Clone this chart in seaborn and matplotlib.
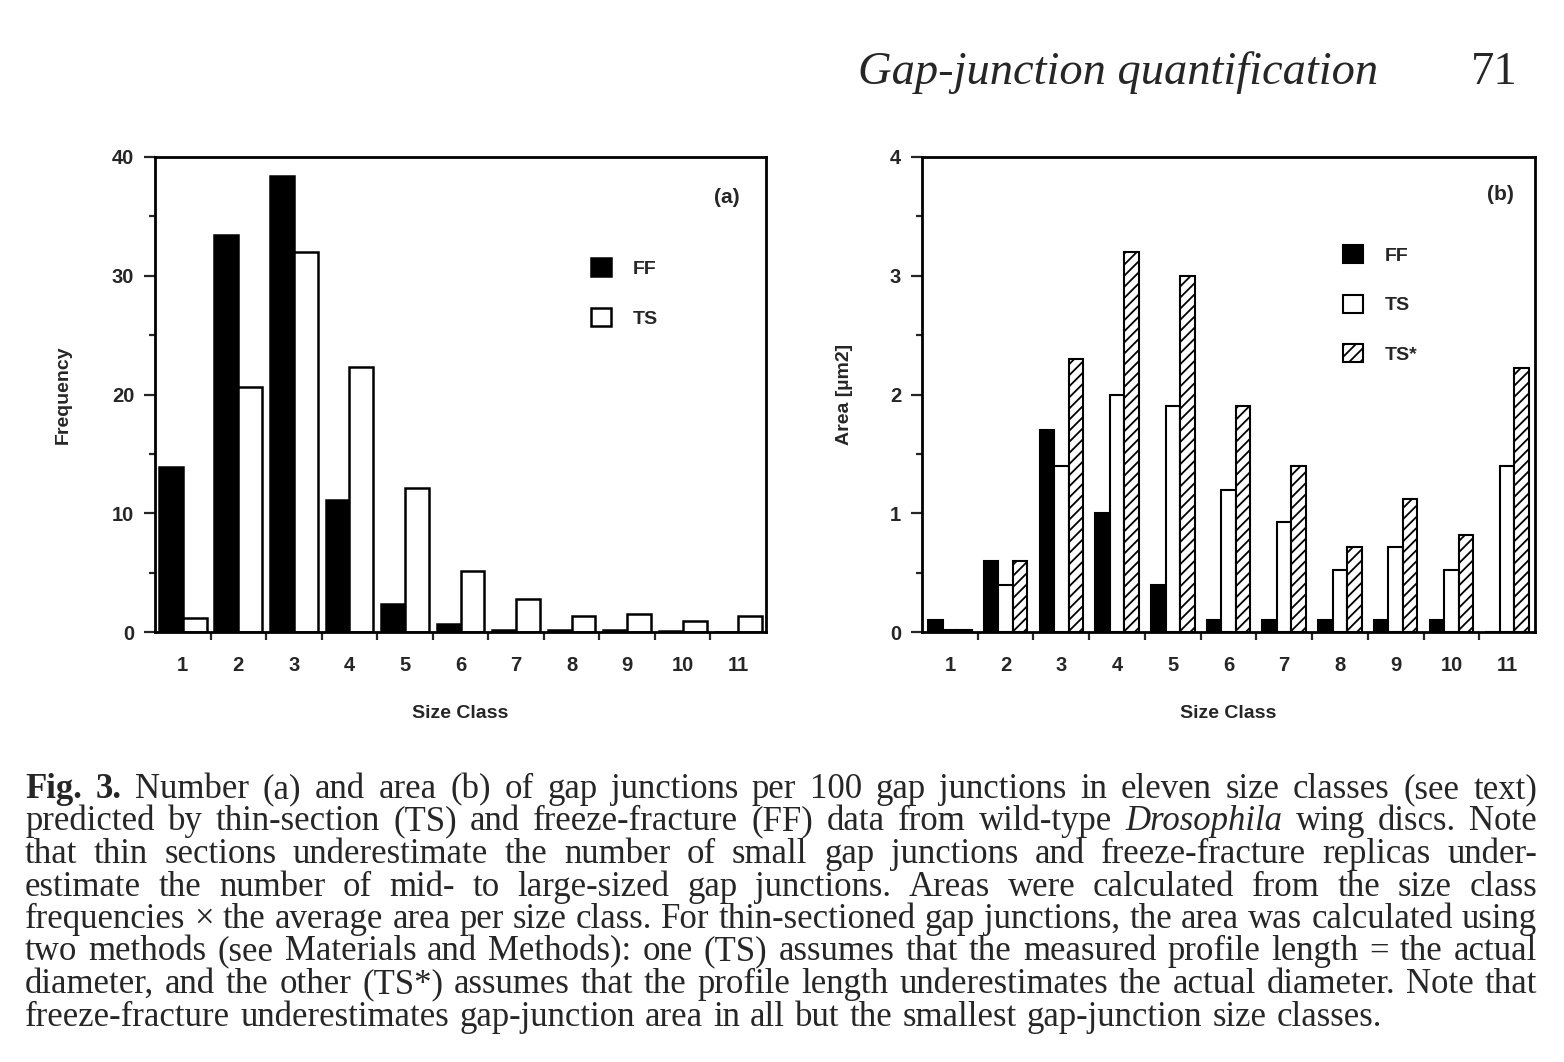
import numpy as np
import pandas as pd
import matplotlib
matplotlib.use('Agg')
import matplotlib.pyplot as plt
import seaborn as sns

# data
size_classes = ['1', '2', '3', '4', '5', '6', '7', '8', '9', '10', '11']
freq_ff = [13.9, 33.4, 38.4, 11.1, 2.4, 0.7, 0.2, 0.2, 0.15, 0.1, 0.0]
freq_ts = [1.2, 20.6, 32.0, 22.3, 12.1, 5.1, 2.8, 1.35, 1.5, 0.9, 1.35]
area_ff = [0.1, 0.6, 1.7, 1.0, 0.4, 0.1, 0.1, 0.1, 0.1, 0.1, 0.0]
area_ts = [0.02, 0.4, 1.4, 2.0, 1.9, 1.2, 0.93, 0.52, 0.72, 0.52, 1.4]
area_ts_star = [0.02, 0.6, 2.3, 3.2, 3.0, 1.9, 1.4, 0.72, 1.12, 0.82, 2.22]

caption_lines = [
    "§Fig. §3. Number (a) and area (b) of gap junctions per 100 gap junctions in eleven size classes (see text)",
    "predicted by thin-section (TS) and freeze-fracture (FF) data from wild-type ~Drosophila wing discs. Note",
    "that thin sections underestimate the number of small gap junctions and freeze-fracture replicas under-",
    "estimate the number of mid- to large-sized gap junctions. Areas were calculated from the size class",
    "frequencies × the average area per size class. For thin-sectioned gap junctions, the area was calculated using",
    "two methods (see Materials and Methods): one (TS) assumes that the measured profile length = the actual",
    "diameter, and the other (TS*) assumes that the profile length underestimates the actual diameter. Note that",
    "freeze-fracture underestimates gap-junction area in all but the smallest gap-junction size classes.",
]

W, H = 1564, 1062
sns.set_theme(style='ticks')
plt.rcParams['font.family'] = ['Liberation Sans', 'DejaVu Sans']
plt.rcParams['hatch.linewidth'] = 1.3

fig = plt.figure(figsize=(W / 100, H / 100), dpi=100)
fig.patch.set_facecolor('white')
ax_a = fig.add_axes([155 / W, 1 - 632 / H, 611 / W, 475 / H])
ax_b = fig.add_axes([922 / W, 1 - 632 / H, 613 / W, 475 / H])

df_a = pd.DataFrame({
    'size': size_classes * 2,
    'value': freq_ff + freq_ts,
    'method': ['FF'] * 11 + ['TS'] * 11,
})
df_b = pd.DataFrame({
    'size': size_classes * 3,
    'value': area_ff + area_ts + area_ts_star,
    'method': ['FF'] * 11 + ['TS'] * 11 + ['TS*'] * 11,
})
pal = {'FF': 'black', 'TS': 'white', 'TS*': 'white'}

sns.barplot(df_a, x='size', y='value', hue='method', hue_order=['FF', 'TS'],
            palette=pal, saturation=1, edgecolor='black', linewidth=1.8,
            width=0.86, errorbar=None, legend=False, ax=ax_a)
sns.barplot(df_b, x='size', y='value', hue='method', hue_order=['FF', 'TS', 'TS*'],
            palette=pal, saturation=1, edgecolor='black', linewidth=1.5,
            width=0.78, errorbar=None, legend=False, ax=ax_b)
for p in ax_b.containers[2]:
    p.set_hatch('///')


def style_axes(ax, ymax, major, ylabel, ylab_x):
    ax.set_xlim(-0.5, 10.5)
    ax.set_ylim(0, ymax)
    for s in ax.spines.values():
        s.set_visible(True)
        s.set_linewidth(2.0)
        s.set_color('black')
    ticks = np.arange(0, ymax + major / 2, major)
    ax.set_yticks(ticks, labels=[f'{t:g}' for t in ticks])
    ax.set_yticks(ticks[:-1] + major / 2, minor=True)
    ax.set_xticks(np.arange(0.5, 10, 1), minor=True)
    ax.tick_params(axis='x', which='major', length=0, pad=17, labelsize=14.5)
    ax.tick_params(axis='x', which='minor', length=6, width=1.6, direction='out')
    ax.tick_params(axis='y', which='major', length=8, width=1.6, pad=7, labelsize=14.5)
    ax.tick_params(axis='y', which='minor', length=4, width=1.6, direction='out')
    for lbl in ax.get_xticklabels() + ax.get_yticklabels():
        lbl.set_fontweight('bold')
    ax.set_xlabel('Size Class', fontweight='bold', fontsize=14, labelpad=22)
    ax.set_ylabel(ylabel, fontweight='bold', fontsize=14)
    ax.yaxis.set_label_coords(ylab_x, 0.5)


style_axes(ax_a, 40, 10, 'Frequency', -0.137)
style_axes(ax_b, 4, 1, 'Area [µm2]', -0.112)

leg_kw = dict(loc='upper left', frameon=False, handlelength=1.05, handleheight=1.05,
              handletextpad=1.1, labelspacing=1.55, borderpad=0, borderaxespad=0,
              prop=dict(weight='bold', size=14))
ax_a.legend(ax_a.containers, ['FF', 'TS'], bbox_to_anchor=(0.713, 0.787), **leg_kw)
ax_b.legend(ax_b.containers, ['FF', 'TS', 'TS*'], bbox_to_anchor=(0.686, 0.815), **leg_kw)

ax_a.text(0.936, 0.914, '(a)', transform=ax_a.transAxes, ha='center', va='center',
          fontsize=15, fontweight='bold')
ax_b.text(0.943, 0.92, '(b)', transform=ax_b.transAxes, ha='center', va='center',
          fontsize=15, fontweight='bold')

# page header and caption
renderer = fig.canvas.get_renderer()


def text_width(s, **kw):
    t = fig.text(0, 0, s, **kw)
    w = t.get_window_extent(renderer).width
    t.remove()
    return w


serif = ['Liberation Serif', 'DejaVu Serif']
hw = text_width('Gap-junction quantification', family=serif, style='italic', size=20)
hsize = 20 * 521 / hw
fig.text(1378 / W, 1 - 84 / H, 'Gap-junction quantification', family=serif, style='italic',
         size=hsize, ha='right', va='baseline')
fig.text(1518 / W, 1 - 84 / H, '71', family=serif, size=hsize, ha='right', va='baseline')

X0, X1 = 25, 1537


def parse(line, size):
    items = []
    for w in line.split(' '):
        st = dict(family=serif, size=size)
        if w.startswith('§'):
            w = w[1:]
            st['weight'] = 'bold'
        elif w.startswith('~'):
            w = w[1:]
            st['style'] = 'italic'
        items.append((w, st, text_width(w, **st)))
    return items


def space_width(size):
    return text_width('a a', family=serif, size=size) - text_width('aa', family=serif, size=size)


# pick the size at which the tightest line just fills the measure
base = 16
widest = max(sum(it[2] for it in parse(l, base)) + space_width(base) * (l.count(' '))
             for l in caption_lines)
csize = base * (X1 - X0 - 6) / widest
space = space_width(csize)

for i, line in enumerate(caption_lines):
    items = parse(line, csize)
    total = sum(it[2] for it in items)
    last = i == len(caption_lines) - 1
    gap = space * 1.15 if last else (X1 - X0 - total) / (len(items) - 1)
    x = X0
    y = 798 + 32.5 * i
    for w, st, wd in items:
        fig.text(x / W, 1 - y / H, w, ha='left', va='baseline', **st)
        x += wd + gap

fig.savefig('out.png', dpi=100, facecolor='white')
